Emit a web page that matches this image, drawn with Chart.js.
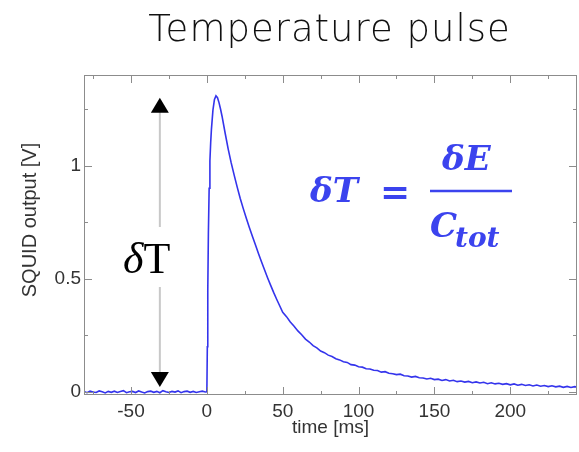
<!DOCTYPE html>
<html>
<head>
<meta charset="utf-8">
<script src="https://cdn.jsdelivr.net/npm/chart.js@4.4.0/dist/chart.umd.min.js"></script>
<style>
  html, body { margin: 0; padding: 0; background: #fff; }
</style>
</head>
<body>
<canvas id="canvas" width="579" height="452"></canvas>
<script>
// SQUID output [V] vs time [ms]
var baseline = [[-81,0.002],[-79,-0.003],[-77,0.004],[-75,0.000],[-73,-0.002],[-71,0.005],[-69,0.001],[-67,-0.004],
  [-65,0.003],[-63,-0.001],[-61,0.004],[-59,-0.002],[-57,0.002],[-55,0.006],[-53,-0.003],[-51,0.001],[-49,0.003],
  [-47,-0.002],[-45,0.005],[-43,0.000],[-41,-0.004],[-39,0.002],[-37,0.004],[-35,-0.001],[-33,0.003],[-31,-0.003],
  [-29,0.006],[-27,0.001],[-25,-0.002],[-23,0.003],[-21,0.000],[-19,0.005],[-17,-0.003],[-15,0.002],[-13,0.004],
  [-11,-0.001],[-9,0.003],[-7,-0.002],[-5,0.001],[-3,0.004],[-1,0.000]];
var pulse = [[0,0.001],[0.3,0.20],[0.6,0.45],[1,0.70],[1.5,0.90],[2,1.02],[2.5,1.10],[3,1.16],[4,1.245],[5,1.292],
  [6,1.308],[7,1.300],[8,1.278],[9,1.250],[10,1.218],[12,1.145],[14,1.075],[16,1.013],[18,0.958],[20,0.905],
  [22,0.855],[24,0.810],[26,0.767],[28,0.727],[30,0.688],[32,0.650],[34,0.612],[36,0.575],[38,0.540],[40,0.505],
  [42,0.472],[44,0.440],[46,0.410],[48,0.381]];
var tail = [[50,0.352],[52.5,0.333],[55,0.309],[57.5,0.291],[60,0.270],[62.5,0.253],[65,0.234],[67.5,0.221],
  [70,0.205],[72.5,0.195],[75,0.181],[77.5,0.174],[80,0.163],[82.5,0.157],[85,0.147],[87.5,0.142],[90,0.134],
  [92.5,0.131],[95,0.121],[97.5,0.119],[100,0.112],[102.5,0.110],[105,0.103],[107.5,0.102],[110,0.096],[112.5,0.095],
  [115,0.088],[117.5,0.090],[120,0.083],[122.5,0.081],[125,0.077],[127.5,0.079],[130,0.072],[132.5,0.071],
  [135,0.066],[137.5,0.069],[140,0.063],[142.5,0.062],[145,0.058],[147.5,0.061],[150,0.055],[152.5,0.057],
  [155,0.051],[157.5,0.055],[160,0.049],[162.5,0.052],[165,0.046],[167.5,0.049],[170,0.044],[172.5,0.047],
  [175,0.041],[177.5,0.045],[180,0.040],[182.5,0.043],[185,0.037],[187.5,0.041],[190,0.036],[192.5,0.039],
  [195,0.034],[197.5,0.037],[200,0.032],[202.5,0.036],[205,0.030],[207.5,0.034],[210,0.029],[212.5,0.032],
  [215,0.027],[217.5,0.031],[220,0.026],[222.5,0.029],[225,0.024],[227.5,0.028],[230,0.023],[232.5,0.026],
  [235,0.021],[237.5,0.025],[240,0.020],[242.5,0.024],[245,0.021]];

var xTicks = [-50, 0, 50, 100, 150, 200];
var xMinor = [-75, -25, 25, 75, 125, 175, 225];
var yTicks = [0, 0.5, 1];
var yMinor = [0.25, 0.75, 1.25];

var points = baseline.concat(pulse, tail).map(function(p) { return {x: p[0], y: p[1]}; });

function fixTicks(list) {
  return function(scale) { scale.ticks = list.map(function(v) { return {value: v}; }); };
}

// title, frame, inward ticks, the dT arrow and the formula
var decor = {
  id: 'decor',
  afterDatasetsDraw: function(chart) {
    var ctx = chart.ctx, a = chart.chartArea, xs = chart.scales.x, ys = chart.scales.y;
    ctx.save();
    function seg(x1, y1, x2, y2) { ctx.beginPath(); ctx.moveTo(x1, y1); ctx.lineTo(x2, y2); ctx.stroke(); }

    ctx.fillStyle = '#111';
    ctx.font = '300 37px "DejaVu Sans", sans-serif';
    ctx.textAlign = 'center';
    ctx.textBaseline = 'alphabetic';
    ctx.letterSpacing = '1px';
    ctx.fillText('Temperature pulse', (a.left + a.right) / 2 - 1, 41);
    ctx.letterSpacing = '0px';

    ctx.strokeStyle = '#8c8c8c';
    ctx.lineWidth = 1;
    ctx.strokeRect(a.left + 0.5, a.top + 0.5, a.right - a.left - 1, a.bottom - a.top - 1);
    function xt(v, len) {
      var px = Math.round(xs.getPixelForValue(v)) + 0.5;
      seg(px, a.bottom, px, a.bottom - len); seg(px, a.top, px, a.top + len);
    }
    function yt(v, len) {
      var py = Math.round(ys.getPixelForValue(v)) + 0.5;
      seg(a.left, py, a.left + len, py); seg(a.right, py, a.right - len, py);
    }
    xTicks.forEach(function(v) { xt(v, 8); });
    xMinor.forEach(function(v) { xt(v, 4); });
    yTicks.forEach(function(v) { yt(v, 8); });
    yMinor.forEach(function(v) { yt(v, 4); });

    // y axis title
    ctx.fillStyle = '#333';
    ctx.font = '20px "Liberation Sans", Arial, sans-serif';
    ctx.textBaseline = 'middle';
    ctx.save();
    ctx.translate(30, 220);
    ctx.rotate(-Math.PI / 2);
    ctx.fillText('SQUID output [V]', 0, 0);
    ctx.restore();

    // dT arrow
    var ax = xs.getPixelForValue(-31);
    var yTop = ys.getPixelForValue(1.30), yBot = ys.getPixelForValue(0.022);
    ctx.strokeStyle = '#c8c8c8';
    ctx.lineWidth = 2;
    seg(ax, yTop + 14, ax, 227);
    seg(ax, 287, ax, yBot - 14);
    ctx.fillStyle = '#000';
    ctx.beginPath(); ctx.moveTo(ax, yTop); ctx.lineTo(ax - 9, yTop + 15); ctx.lineTo(ax + 9, yTop + 15); ctx.closePath(); ctx.fill();
    ctx.beginPath(); ctx.moveTo(ax, yBot); ctx.lineTo(ax - 9, yBot - 15); ctx.lineTo(ax + 9, yBot - 15); ctx.closePath(); ctx.fill();

    ctx.textAlign = 'left';
    ctx.textBaseline = 'alphabetic';
    ctx.font = 'italic 44px "Liberation Serif", "DejaVu Serif", serif';
    ctx.fillText('\u03b4', 123, 273);
    var dw = ctx.measureText('\u03b4').width;
    ctx.font = '44px "Liberation Serif", "DejaVu Serif", serif';
    ctx.fillText('T', 123 + dw, 273);

    // formula
    var blue = '#3b43ee';
    ctx.fillStyle = blue;
    ctx.strokeStyle = blue;
    ctx.font = 'italic bold 34px "DejaVu Serif", serif';
    ctx.fillText('\u03b4T', 310, 202);
    ctx.fillText('\u03b4E', 442, 170);
    ctx.fillText('C', 430, 237);
    ctx.font = 'bold 36px "DejaVu Serif", serif';
    ctx.fillText('=', 380, 204);
    ctx.font = 'italic bold 28px "DejaVu Serif", serif';
    ctx.fillText('tot', 455, 247);
    ctx.lineWidth = 2.5;
    seg(430, 191, 512, 191);
    ctx.restore();
  }
};

new Chart(document.getElementById('canvas').getContext('2d'), {
  type: 'line',
  data: {
    datasets: [{
      label: 'SQUID output',
      data: points,
      borderColor: 'rgb(52, 52, 236)',
      borderWidth: 1.6,
      pointRadius: 0,
      tension: 0,
      fill: false
    }]
  },
  options: {
    responsive: false,
    animation: false,
    layout: { padding: { left: 0, right: 2, top: 75, bottom: 0 } },
    plugins: {
      legend: { display: false },
      tooltip: { enabled: false },
      title: { display: false }
    },
    scales: {
      x: {
        type: 'linear',
        min: -81,
        max: 244,
        grid: { display: false, drawTicks: false },
        border: { display: false },
        afterBuildTicks: fixTicks(xTicks),
        afterFit: function(s) { s.height = 57; },
        ticks: { color: '#333', padding: 5, font: { family: '"Liberation Sans", Arial, sans-serif', size: 19 } },
        title: {
          display: true,
          text: 'time [ms]',
          color: '#333',
          padding: { top: 0, bottom: 13 },
          font: { family: '"Liberation Sans", Arial, sans-serif', size: 19 }
        }
      },
      y: {
        min: -0.013,
        max: 1.40,
        grid: { display: false, drawTicks: false },
        border: { display: false },
        afterBuildTicks: fixTicks(yTicks),
        afterFit: function(s) { s.width = 84; },
        ticks: {
          color: '#333',
          padding: 3,
          font: { family: '"Liberation Sans", Arial, sans-serif', size: 19 },
          callback: function(v) { return String(v); }
        }
      }
    }
  },
  plugins: [decor]
});
</script>
</body>
</html>
